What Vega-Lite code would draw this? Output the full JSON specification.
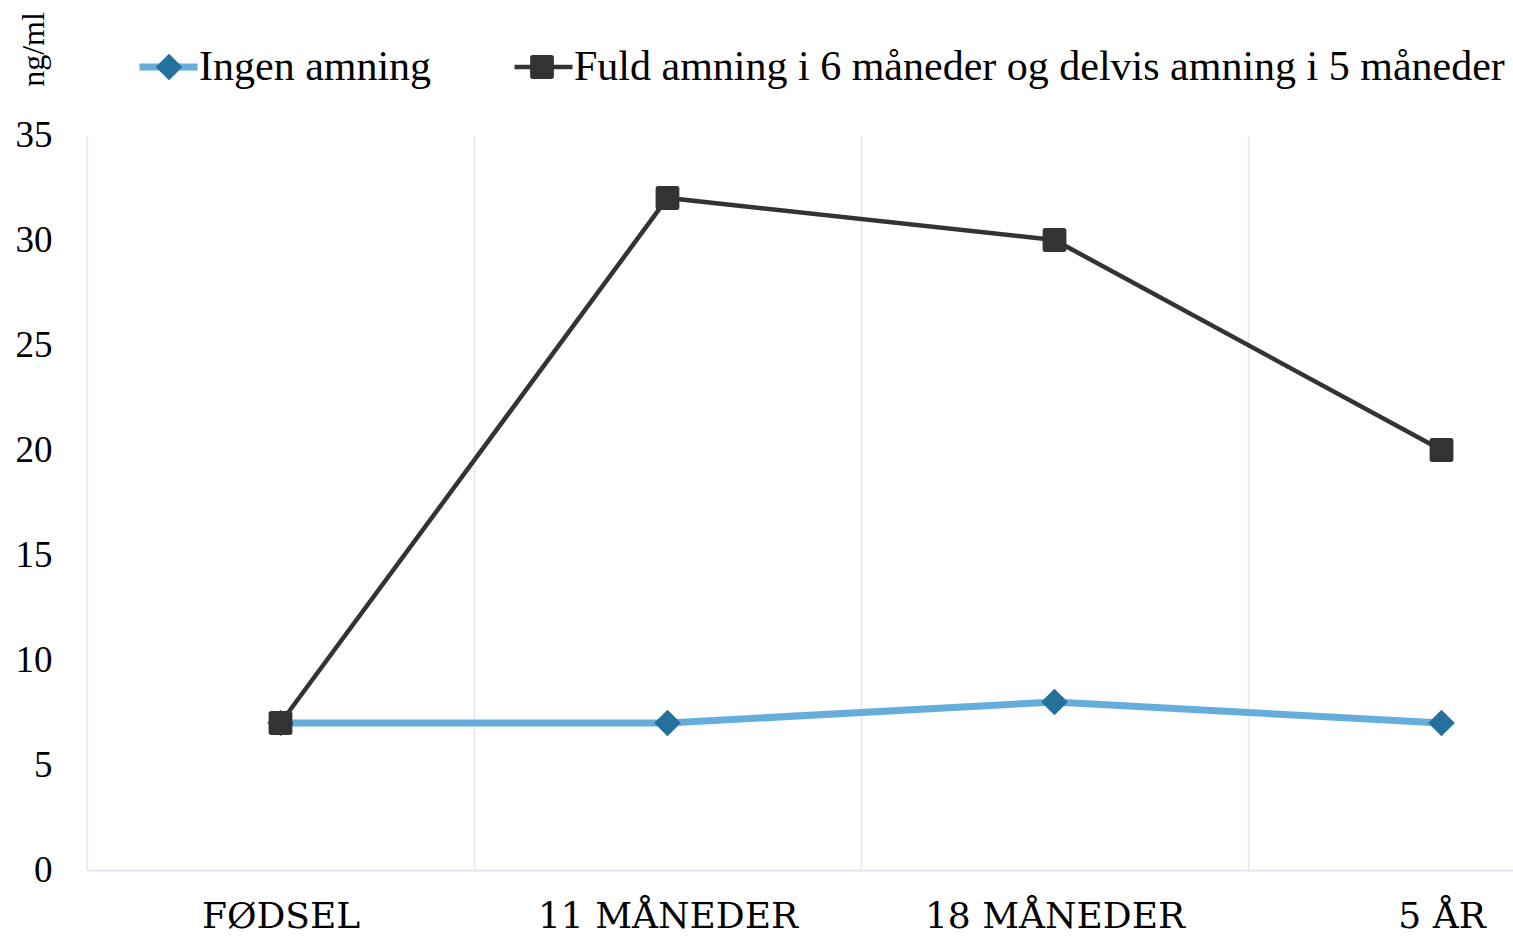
{
  "$schema": "https://vega.github.io/schema/vega-lite/v6.json",
  "width": 1423,
  "height": 735,
  "autosize": {"type": "none"},
  "padding": {"left": 87, "top": 135, "right": 3, "bottom": 67},
  "background": "white",
  "config": {"view": {"stroke": null}, "font": "Liberation Serif"},
  "data": {
    "values": [
      {"t": "FØDSEL", "series": "Ingen amning", "v": 7},
      {"t": "11 MÅNEDER", "series": "Ingen amning", "v": 7},
      {"t": "18 MÅNEDER", "series": "Ingen amning", "v": 8},
      {"t": "5 ÅR", "series": "Ingen amning", "v": 7},
      {"t": "FØDSEL", "series": "Fuld amning i 6 måneder og delvis amning i 5 måneder", "v": 7},
      {"t": "11 MÅNEDER", "series": "Fuld amning i 6 måneder og delvis amning i 5 måneder", "v": 32},
      {"t": "18 MÅNEDER", "series": "Fuld amning i 6 måneder og delvis amning i 5 måneder", "v": 30},
      {"t": "5 ÅR", "series": "Fuld amning i 6 måneder og delvis amning i 5 måneder", "v": 20}
    ]
  },
  "encoding": {
    "x": {
      "field": "t",
      "type": "ordinal",
      "sort": ["FØDSEL", "11 MÅNEDER", "18 MÅNEDER", "5 ÅR"],
      "scale": {"type": "band", "paddingInner": 0, "paddingOuter": 0, "range": [0, 1548]},
      "axis": {
        "title": null,
        "labelAngle": 0,
        "tickBand": "extent",
        "grid": true,
        "gridColor": "#DDEAF4",
        "gridWidth": 1.5,
        "domainColor": "#DDEAF4",
        "domainWidth": 2,
        "ticks": false,
        "labelFont": "DejaVu Serif",
        "labelFontSize": 36,
        "labelColor": "#000000",
        "labelBaseline": "alphabetic",
        "labelPadding": 57,
        "labelLimit": 600
      }
    },
    "y": {
      "field": "v",
      "type": "quantitative",
      "scale": {"domain": [0, 35], "nice": false},
      "axis": {
        "title": "ng/ml",
        "values": [0, 5, 10, 15, 20, 25, 30, 35],
        "grid": false,
        "domain": false,
        "ticks": false,
        "labelFont": "Liberation Serif",
        "labelFontSize": 37,
        "labelColor": "#000000",
        "labelPadding": 35,
        "titleFont": "Liberation Serif",
        "titleFontSize": 32,
        "titleFontWeight": "normal",
        "titleColor": "#000000",
        "titleAngle": -90,
        "titleAlign": "center",
        "titleBaseline": "alphabetic",
        "titleX": -44,
        "titleY": -86
      }
    }
  },
  "layer": [
    {
      "mark": {"type": "line", "interpolate": "linear"},
      "encoding": {
        "color": {
          "field": "series",
          "type": "nominal",
          "sort": ["Ingen amning", "Fuld amning i 6 måneder og delvis amning i 5 måneder"],
          "scale": {"range": ["#65AEDB", "#333333"]},
          "legend": {
            "orient": "none",
            "legendX": 53,
            "legendY": -89,
            "direction": "horizontal",
            "title": null,
            "padding": 0,
            "symbolType": "stroke",
            "symbolSize": 3364,
            "symbolStrokeWidth": 6,
            "symbolOffset": 7.5,
            "labelFont": "Liberation Serif",
            "labelFontSize": 42,
            "labelColor": "#000000",
            "labelOffset": 9.5,
            "labelLimit": 2000,
            "columnPadding": 73,
            "encode": {"symbols": {"update": {"strokeWidth": {"signal": "datum.value === 'Ingen amning' ? 7 : 4.5"}}}}
          }
        },
        "strokeWidth": {
          "field": "series",
          "type": "nominal",
          "scale": {"range": [4.5, 7]},
          "legend": null
        }
      }
    },
    {
      "mark": {"type": "point", "filled": true, "opacity": 1, "size": 3364, "strokeWidth": 0},
      "encoding": {
        "fill": {
          "field": "series",
          "type": "nominal",
          "scale": {"domain": ["Ingen amning", "Fuld amning i 6 måneder og delvis amning i 5 måneder"], "range": ["#25709C", "#333333"]},
          "legend": {
            "orient": "none",
            "legendX": 53,
            "legendY": -97,
            "direction": "horizontal",
            "title": null,
            "padding": 0,
            "symbolSize": 3364,
            "symbolStrokeWidth": 0,
            "symbolOpacity": 1,
            "symbolOffset": 0,
            "labelExpr": "''",
            "labelFontSize": 42,
            "labelOffset": 0,
            "columnPadding": 315
          }
        },
        "shape": {
          "field": "series",
          "type": "nominal",
          "scale": {
            "domain": ["Ingen amning", "Fuld amning i 6 måneder og delvis amning i 5 måneder"],
            "range": [
              "M0,-0.46L0.46,0L0,0.46L-0.46,0Z",
              "M-0.32,-0.41H0.32Q0.41,-0.41 0.41,-0.32V0.32Q0.41,0.41 0.32,0.41H-0.32Q-0.41,0.41 -0.41,0.32V-0.32Q-0.41,-0.41 -0.32,-0.41Z"
            ]
          },
          "legend": {
            "orient": "none",
            "legendX": 53,
            "legendY": -97,
            "direction": "horizontal",
            "title": null,
            "padding": 0,
            "symbolSize": 3364,
            "symbolStrokeWidth": 0,
            "symbolOpacity": 1,
            "symbolOffset": 0,
            "labelExpr": "''",
            "labelFontSize": 42,
            "labelOffset": 0,
            "columnPadding": 315
          }
        }
      }
    }
  ]
}
